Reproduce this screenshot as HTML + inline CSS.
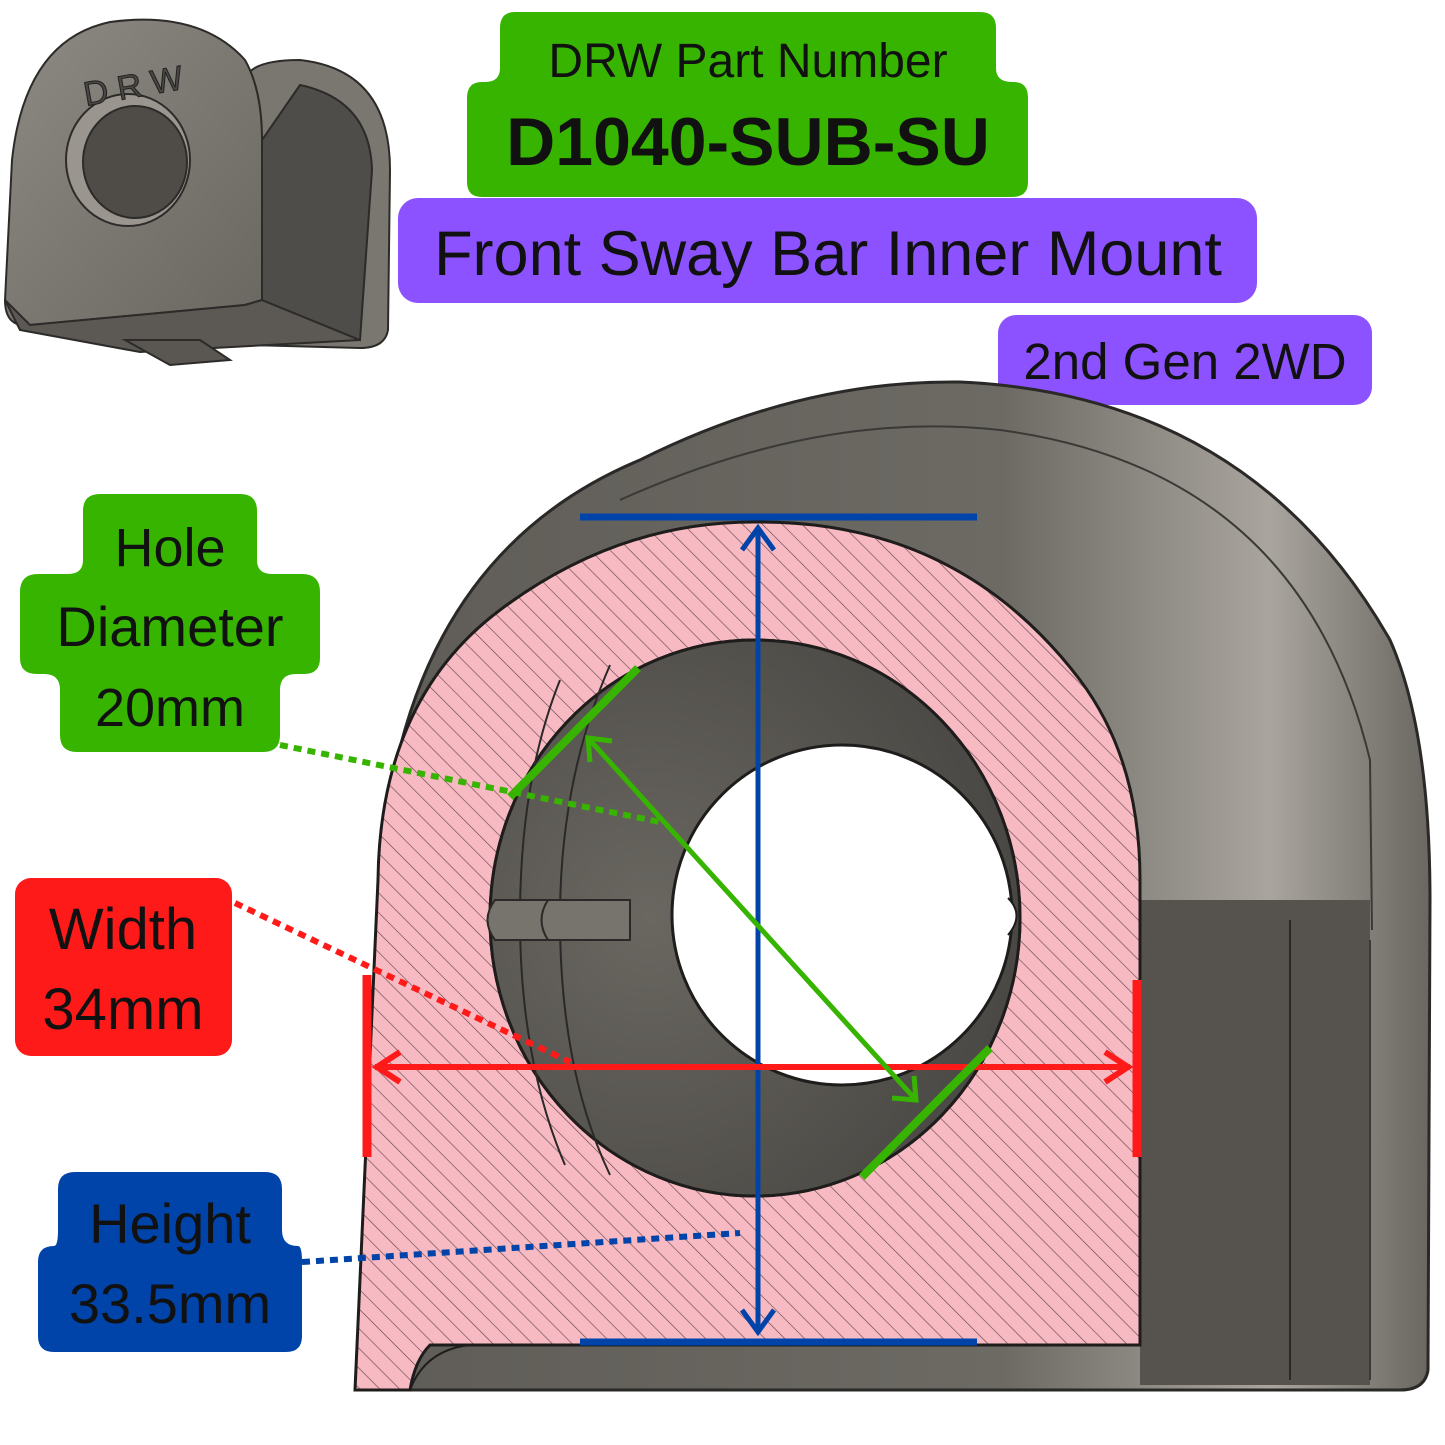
<!DOCTYPE html>
<html><head><meta charset="utf-8">
<style>
html,body{margin:0;padding:0;background:#fff;}
svg{display:block;}
text{font-family:"Liberation Sans",sans-serif;}
</style></head>
<body>
<svg width="1445" height="1445" viewBox="0 0 1445 1445" xmlns="http://www.w3.org/2000/svg">
<defs>
  <pattern id="hatch" width="14" height="14" patternUnits="userSpaceOnUse" patternTransform="rotate(-45)">
    <rect width="14" height="14" fill="#f7b9c2"/>
    <line x1="0" y1="0" x2="0" y2="14" stroke="#6a4a50" stroke-width="1.3"/>
  </pattern>
  <linearGradient id="body" x1="0" y1="0" x2="1" y2="0">
    <stop offset="0" stop-color="#5f5c57"/>
    <stop offset="0.6" stop-color="#6d6a64"/>
    <stop offset="0.85" stop-color="#a9a59e"/>
    <stop offset="1" stop-color="#6a6761"/>
  </linearGradient>
  <linearGradient id="thumb" x1="0" y1="0" x2="1" y2="1">
    <stop offset="0" stop-color="#8d8a83"/>
    <stop offset="1" stop-color="#6a6761"/>
  </linearGradient>
  <radialGradient id="cyl" cx="0.3" cy="0.5" r="0.7">
    <stop offset="0" stop-color="#6a6761"/>
    <stop offset="1" stop-color="#4a4844"/>
  </radialGradient>
</defs>

<!-- Thumbnail -->
<g stroke="#2c2b29" stroke-width="2">
  <path d="M245,80 Q250,60 300,60 Q390,70 390,170 L388,330 Q385,348 360,348 L250,345 Z" fill="#7a7770"/>
  <path d="M12,160 Q25,40 110,22 Q200,10 245,60 Q262,90 262,140 L262,300 L245,305 L30,325 Q5,328 5,300 Z" fill="url(#thumb)"/>
  <path d="M5,300 L30,325 L245,305 L262,300 L360,340 L140,352 L20,330 Z" fill="#5c5955"/>
  <path d="M125,340 L170,365 L230,360 L200,340 Z" fill="#5a5753"/>
  <ellipse cx="128" cy="160" rx="62" ry="66" fill="#9a968f"/>
  <ellipse cx="135" cy="162" rx="52" ry="56" fill="#4f4c48"/>
  <path d="M262,140 L262,300 L360,340 L372,170 Q370,100 300,85 Z" fill="#4f4d49"/>
</g>
<text x="82" y="98" font-size="34" fill="#4a4844" stroke="#222" stroke-width="1" transform="rotate(-10 130 80)">D R W</text>

<!-- Green part number label -->
<path d="M515,12 H980 Q996,12 996,28 V68 Q996,82 1012,82 H1014 Q1028,82 1028,98 V182 Q1028,197 1012,197 H482 Q467,197 467,182 V98 Q467,82 482,82 H485 Q500,82 500,68 V28 Q500,12 515,12 Z" fill="#37b400"/>
<text x="748" y="77" font-size="48" text-anchor="middle" fill="#111">DRW Part Number</text>
<text x="748" y="165" font-size="68" font-weight="bold" text-anchor="middle" fill="#111">D1040-SUB-SU</text>

<!-- Purple labels -->
<rect x="398" y="198" width="859" height="105" rx="20" fill="#8c52ff"/>
<text x="828" y="275" font-size="63" text-anchor="middle" fill="#111">Front Sway Bar Inner Mount</text>
<rect x="998" y="315" width="374" height="90" rx="18" fill="#8c52ff"/>
<text x="1185" y="379" font-size="51" text-anchor="middle" fill="#111">2nd Gen 2WD</text>

<!-- Main body back -->
<path d="M380,880 Q400,560 640,460 Q800,380 960,382 Q1250,395 1390,640 Q1430,730 1430,900 L1428,1370 Q1425,1390 1400,1390 L360,1390 Z" fill="url(#body)" stroke="#2a2927" stroke-width="3"/>
<path d="M1140,900 H1370 V1385 H1140 Z" fill="#56534f"/>
<path d="M1290,920 V1380" stroke="#2a2927" stroke-width="2"/>
<path d="M1370,940 V1380" stroke="#3a3936" stroke-width="2"/>
<path d="M620,500 Q820,410 1000,430 Q1300,470 1370,760 L1372,930" fill="none" stroke="#3a3936" stroke-width="2"/>

<!-- Pink section -->
<path fill-rule="evenodd" d="M378,880 Q380,700 500,610 Q620,520 760,522 Q960,522 1080,680 Q1140,760 1140,880 L1140,1345 L980,1345 L430,1345 Q415,1360 410,1390 L355,1390 Z
M755,640 A265,278 0 1 0 755,1196 A265,278 0 1 0 755,640 Z" fill="url(#hatch)" stroke="#1e1d1c" stroke-width="3"/>
<path d="M410,1390 Q425,1350 470,1345 L980,1345" fill="none" stroke="#1e1d1c" stroke-width="2"/>

<!-- Hole interior -->
<ellipse cx="755" cy="918" rx="265" ry="278" fill="url(#cyl)" stroke="#1e1d1c" stroke-width="3"/>
<path d="M560,680 Q520,780 520,918 Q520,1060 565,1165" fill="none" stroke="#2a2927" stroke-width="2"/>
<path d="M610,665 Q560,780 560,918 Q560,1070 610,1175" fill="none" stroke="#2a2927" stroke-width="2"/>
<path d="M495,900 Q480,920 495,940 L560,940 L560,900 Z" fill="#77746e" stroke="#2a2927" stroke-width="2"/>
<path d="M548,900 Q535,920 548,940 L630,940 L630,900 Z" fill="#77746e" stroke="#2a2927" stroke-width="2"/>
<circle cx="842" cy="915" r="170" fill="#fff" stroke="#1e1d1c" stroke-width="3"/>
<path d="M1008,898 Q1025,915 1008,935" fill="#fff" stroke="#1e1d1c" stroke-width="2"/>

<!-- Blue height -->
<line x1="580" y1="517" x2="977" y2="517" stroke="#0044aa" stroke-width="7"/>
<line x1="580" y1="1342" x2="977" y2="1342" stroke="#0044aa" stroke-width="7"/>
<line x1="758" y1="528" x2="758" y2="1332" stroke="#0044aa" stroke-width="5"/>
<path d="M742,550 L758,528 L774,550" fill="none" stroke="#0044aa" stroke-width="5"/>
<path d="M742,1310 L758,1332 L774,1310" fill="none" stroke="#0044aa" stroke-width="5"/>

<!-- Red width -->
<line x1="367" y1="975" x2="367" y2="1157" stroke="#ff1a1a" stroke-width="9"/>
<line x1="1137" y1="980" x2="1137" y2="1157" stroke="#ff1a1a" stroke-width="9"/>
<line x1="375" y1="1067" x2="1130" y2="1067" stroke="#ff1a1a" stroke-width="6"/>
<path d="M400,1052 L377,1067 L400,1082" fill="none" stroke="#ff1a1a" stroke-width="6"/>
<path d="M1105,1052 L1128,1067 L1105,1082" fill="none" stroke="#ff1a1a" stroke-width="6"/>

<!-- Green diameter -->
<line x1="510" y1="797" x2="638" y2="668" stroke="#37b400" stroke-width="8"/>
<line x1="862" y1="1177" x2="990" y2="1048" stroke="#37b400" stroke-width="8"/>
<line x1="588" y1="738" x2="916" y2="1100" stroke="#37b400" stroke-width="5"/>
<path d="M590,762 L588,738 L612,741" fill="none" stroke="#37b400" stroke-width="5"/>
<path d="M892,1098 L916,1100 L914,1076" fill="none" stroke="#37b400" stroke-width="5"/>

<!-- Dotted leaders -->
<line x1="280" y1="745" x2="660" y2="822" stroke="#37b400" stroke-width="6" stroke-dasharray="8,6"/>
<line x1="235" y1="903" x2="570" y2="1062" stroke="#ff1a1a" stroke-width="6" stroke-dasharray="8,6"/>
<line x1="302" y1="1262" x2="740" y2="1233" stroke="#0044aa" stroke-width="6" stroke-dasharray="8,6"/>

<!-- Hole diameter label -->
<path d="M100,494 H240 Q257,494 257,511 V560 Q257,574 272,574 H302 Q320,574 320,592 V658 Q320,674 304,674 H296 Q280,674 280,690 V735 Q280,752 263,752 H77 Q60,752 60,735 V690 Q60,674 44,674 H37 Q20,674 20,658 V592 Q20,574 38,574 H68 Q83,574 83,560 V511 Q83,494 100,494 Z" fill="#37b400"/>
<text x="170" y="566" font-size="54" text-anchor="middle" fill="#111">Hole</text>
<text x="170" y="646" font-size="56" text-anchor="middle" fill="#111">Diameter</text>
<text x="170" y="726" font-size="54" text-anchor="middle" fill="#111">20mm</text>

<!-- Width label -->
<rect x="15" y="878" width="217" height="178" rx="16" fill="#ff1a1a"/>
<text x="123" y="949" font-size="58" text-anchor="middle" fill="#111">Width</text>
<text x="123" y="1029" font-size="58" text-anchor="middle" fill="#111">34mm</text>

<!-- Height label -->
<path d="M75,1172 H265 Q282,1172 282,1189 V1230 Q282,1246 298,1246 Q302,1246 302,1262 V1336 Q302,1352 286,1352 H54 Q38,1352 38,1336 V1262 Q38,1246 54,1246 Q58,1246 58,1230 V1189 Q58,1172 75,1172 Z" fill="#0044aa"/>
<text x="170" y="1243" font-size="56" text-anchor="middle" fill="#111">Height</text>
<text x="170" y="1323" font-size="56" text-anchor="middle" fill="#111">33.5mm</text>
</svg>
</body></html>
